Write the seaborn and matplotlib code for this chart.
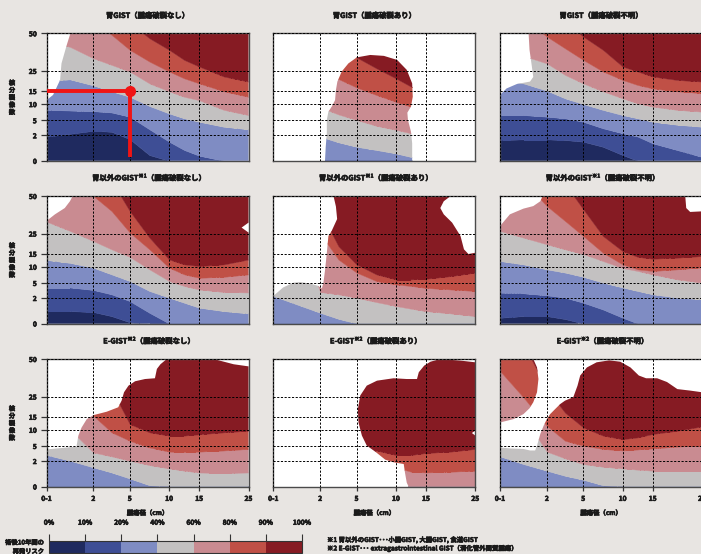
import numpy as np
import matplotlib
matplotlib.use("Agg")
import matplotlib.pyplot as plt
import matplotlib.patheffects as pe
import seaborn as sns
from matplotlib.path import Path
from matplotlib.patches import PathPatch
from matplotlib.colors import ListedColormap, BoundaryNorm
from matplotlib.cm import ScalarMappable

# ---------------------------------------------------------------------------
# Axes definitions
# ---------------------------------------------------------------------------
SIZE_TICKS = [1, 2, 5, 10, 15, 25]
SIZE_LABELS = ["0-1", "2", "5", "10", "15", "25"]
COUNT_TICKS = [0, 2, 5, 10, 15, 25, 50]

RISK_BOUNDS = [0, 10, 20, 40, 60, 80, 90, 100]
RISK_COLORS = ["#1f2a5f", "#3e4e95", "#7f8cc3", "#c3c1c1",
               "#c98b91", "#c05046", "#861b23"]

# tumour sizes at which the contour positions were read
SIZES = [1, 1.5, 2, 3.5, 5, 7.5, 10, 12.5, 15, 20, 25]

# mitotic count where risk passes 10/20/40/60/80/90 % (one row per level)
stomach_none = [
    [1.9, 2.3, 2.9, 2.7, 1.7, 0.45, 0, 0, 0, 0, 0],
    [8.2, 8.0, 7.8, 7.4, 6.1, 3.2, 1.5, 0.85, 0.4, 0, 0],
    [20, 20.8, 17.8, 14.9, 12.8, 9.4, 7.1, 5.6, 4.7, 3.7, 3.2],
    [45, 41, 33.4, 29, 24.7, 18.8, 14.9, 12.8, 11.5, 8.2, 6.6],
    [70, 65, 58, 49, 39, 31.2, 24.7, 21.3, 18.8, 14.9, 12.8],
    [90, 85, 80, 68, 57, 46.7, 39, 32.3, 27.9, 22.2, 19.7],
]
stomach_rupture = [
    [0] * 11,
    [0] * 11,
    [2, 2, 1.9, 1.45, 1.1, 0.85, 0.58, 0.3, 0.2, 0.2, 0.2],
    [10, 10, 9, 6.8, 5.1, 3.9, 3.1, 2.4, 2.2, 2, 2],
    [30, 28, 25, 21, 16.8, 13.5, 10.9, 9.2, 8.5, 8, 8],
    [70, 65, 60, 45, 34, 26.8, 21.3, 17.2, 15, 14, 14],
]
stomach_unknown = [
    [1.63, 1.68, 1.68, 1.63, 1.5, 1.1, 0.45, 0, 0, 0, 0],
    [6.6, 6.6, 6.1, 5.6, 4.7, 3.4, 2.4, 1.9, 1.37, 0.84, 0.3],
    [20, 18.8, 15.2, 12.2, 10, 8.2, 6.6, 5.6, 4.7, 4.1, 3.7],
    [40, 35, 30, 23, 18.8, 14.9, 12.2, 10.3, 9.2, 8.2, 7.65],
    [70, 60, 47.8, 40, 32.3, 24.7, 20.5, 18, 16.3, 14.9, 14.2],
    [90, 80, 65, 58, 47.8, 39, 27.9, 24.7, 22.2, 20.5, 19.7],
]
other_none = [
    [0.97, 0.97, 0.9, 0.58, 0.1, 0, 0, 0, 0, 0, 0],
    [4.1, 4.1, 3.6, 2.73, 1.76, 0.84, 0, 0, 0, 0, 0],
    [12.6, 11.5, 9.7, 7.65, 5.6, 3.4, 2.07, 1.63, 1.24, 0.97, 0.79],
    [33, 26.8, 21.3, 17.2, 13.8, 9.2, 5.6, 4.4, 3.7, 3.2, 3.1],
    [70, 60, 50, 40, 25.7, 17.2, 9.7, 7.65, 6.6, 6.9, 7.65],
    [95, 90, 80, 60, 40, 23, 12.8, 10.9, 10.3, 10.9, 12.8],
]
other_rupture = [
    [0] * 11,
    [0] * 11,
    [2.4, 1.5, 0.84, 0.37, 0, 0, 0, 0, 0, 0, 0],
    [30, 30, 3.2, 2.73, 2.07, 1.68, 1.37, 1.16, 0.97, 0.79, 0.58],
    [40, 40, 25, 12.8, 8.2, 5.6, 4.7, 4.4, 4.0, 3.7, 3.4],
    [60, 60, 40, 18.8, 10.9, 7.65, 6.1, 6.1, 6.3, 7.1, 8.2],
]
other_unknown = [
    [0.45, 0.58, 0.58, 0.35, 0, 0, 0, 0, 0, 0, 0],
    [3.07, 2.93, 2.53, 2.07, 1.63, 1.1, 0.45, 0, 0, 0, 0],
    [12.2, 10.9, 9.2, 8.2, 6.9, 5.1, 4.1, 3.4, 2.73, 2.07, 1.9],
    [26.8, 23, 19.7, 17.2, 14.9, 12.2, 9.6, 8.7, 7.65, 6.1, 5.1],
    [70, 60, 43.3, 33.4, 23.8, 15.5, 10.9, 9.2, 8.7, 9.2, 9.8],
    [90, 80, 70, 58, 41.2, 23.8, 16.3, 13.8, 13.1, 13.5, 14.1],
]
egist_none = [
    [0] * 11,
    [0] * 11,
    [3.2, 2.07, 1.5, 1.1, 0.63, 0.1, 0, 0, 0, 0, 0],
    [10, 10, 3.7, 2.93, 2.07, 1.68, 1.42, 1.24, 1.1, 1.05, 1.1],
    [40, 35, 15.5, 9.2, 6.6, 4.7, 3.87, 3.8, 3.87, 4.1, 4.4],
    [60, 55, 45, 30, 12.2, 9.2, 8.2, 8.2, 8.6, 9.2, 9.7],
]
egist_rupture = [
    [0] * 11,
    [0] * 11,
    [0] * 11,
    [0] * 11,
    [1.5, 1.5, 1.5, 1.5, 1.5, 1.5, 1.5, 1.16, 1.1, 1.16, 1.24],
    [2, 2, 2, 2, 2, 4.1, 3.2, 3.2, 3.6, 3.87, 4.4],
]
egist_unknown = [
    [0] * 11,
    [0] * 11,
    [2.93, 1.76, 1.24, 0.84, 0.53, 0.1, 0, 0, 0, 0, 0],
    [12, 15, 3.87, 2.53, 1.76, 1.55, 1.42, 1.32, 1.24, 1.24, 1.24],
    [42, 24.6, 11.5, 6.6, 5.1, 4.4, 4.1, 4.3, 4.5, 4.87, 5.1],
    [70, 60, 30, 17, 10.9, 8.2, 7.1, 7.65, 8.7, 9.7, 11.3],
]

# outline of the area where a risk is given (size, mitotic count); white outside
stomach_none_area = [([1, 25, 25, 1.51, 1.43, 1.32, 1.29, 1.14, 1],
                      [0, 0, 50, 50, 42, 30, 20.5, 13.5, 11.5])]
stomach_rupture_area = [([2.4, 2.46, 2.55, 2.55, 2.68, 2.95, 3.23, 3.3, 3.42, 3.78,
                          4.33, 5.04, 6.74, 8.47, 10.2, 11.8, 12.7, 12.8, 12.5,
                          11.9, 12.0, 12.5, 12.7, 12.7],
                         [0, 1.1, 2.4, 5.1, 7.65, 9.2, 11.5, 15.5, 19.7, 24.7,
                          30, 34, 35.6, 35, 32.3, 25.7, 18.8, 12.8, 9.2,
                          7.35, 5.1, 2.73, 1.37, 0])]
stomach_unknown_area = [([1, 25, 25, 1.61, 1.63, 1.68, 1.71, 1.64, 1.36, 1.14, 1],
                         [0, 0, 50, 50, 39, 27.9, 22, 19.7, 18.5, 16.3, 13.5])]
other_none_area = [([1, 25, 25, 23.6, 25, 25, 1.56, 1.5, 1.39, 1.18, 1],
                    [0, 0, 25.7, 29, 32.3, 50, 50, 46.5, 42, 37.8, 33.4])]
other_rupture_area = [([1, 25, 25, 23.6, 22.7, 22.0, 20.3, 18.6, 17.9, 18.6, 20.0,
                        3.1, 3.3, 3.4, 2.95, 2.68, 2.55, 2.41, 2.27, 2.14, 1.96,
                        1.79, 1.57, 1.43, 1.21, 1],
                       [0, 0, 15.5, 14.9, 17.2, 23.8, 32.3, 37.8, 42, 46.5, 50,
                        50, 43, 34.7, 26.8, 23.8, 15.5, 9.2, 5.1, 3.9, 4.4,
                        4.87, 5.3, 5.1, 4.1, 2.4])]
other_unknown_area = [([1, 25, 25, 22.6, 21.8, 21.6, 1.91, 1.86, 1.71, 1.5, 1.21, 1],
                       [0, 0, 39.8, 39.4, 42, 50, 50, 46.5, 43.3, 41.6, 37.8, 30])]
egist_none_area = [([1, 25, 25, 22.0, 17.9, 9.7, 8.9, 8.45, 8.2, 6.95, 5.68, 4.9,
                     4.53, 4.33, 4.05, 3.1, 2.0, 1.86, 1.75, 1.68, 1.64, 1],
                    [0, 0, 45.1, 46.5, 50, 50, 46.5, 43.4, 37.2, 36.7, 35.2, 32.3,
                     27.9, 23, 19.7, 17.5, 15.8, 14.1, 10.9, 8.2, 4.87, 4.3])]
egist_rupture_area = [([12.1, 25, 25, 24.3, 25, 25, 22.1, 17.9, 15.9, 14.7, 13.8,
                        13.5, 11.8, 9.7, 7.6, 6.3, 5.47, 5.17, 5.25, 5.68, 6.3,
                        7.37, 8.64, 9.7, 11.3, 11.5, 11.8],
                       [0, 0, 8.2, 9.0, 9.7, 47.8, 48.9, 50, 48.2, 45.6, 41.2,
                        36.7, 36.7, 37.2, 35.6, 32.3, 25.7, 18.8, 12.8, 8.2, 5.1,
                        3.87, 2.27, 1.9, 1.76, 1.1, 0.3])]
egist_unknown_area = [
    ([1, 1.71, 1.79, 1.82, 1.79, 1.71, 1.63, 1.5, 1.29, 1],
     [50, 50, 44.4, 36.7, 27.9, 22.2, 19.2, 16.3, 14.1, 12.8]),
    ([1, 25, 25, 22.6, 20.0, 17.9, 15.9, 13.9, 12.7, 11.3, 9.7, 8.3, 6.7, 5.47,
      4.75, 4.53, 4.18, 3.5, 3.1, 2.68, 2.27, 2.0, 1.93, 1.86, 1.79, 1.75, 1.64,
      1.5, 1.21, 1],
     [0, 0, 27.9, 29, 30, 34.7, 37.2, 37.2, 39, 44.4, 48.2, 49.1, 47.8, 44.4,
      39, 32.3, 24.7, 23, 21.3, 18.8, 16.3, 14.1, 11.5, 8.7, 5.1, 4.1, 4.1,
      4.4, 4.5, 4.7]),
]

TITLES = [
    ["胃GIST（腫瘍破裂なし）", "胃GIST（腫瘍破裂あり）", "胃GIST（腫瘍破裂不明）"],
    ["胃以外のGIST$^{※1}$（腫瘍破裂なし）", "胃以外のGIST$^{※1}$（腫瘍破裂あり）",
     "胃以外のGIST$^{※1}$（腫瘍破裂不明）"],
    ["E-GIST$^{※2}$（腫瘍破裂なし）", "E-GIST$^{※2}$（腫瘍破裂あり）",
     "E-GIST$^{※2}$（腫瘍破裂不明）"],
]
BANDS = [[stomach_none, stomach_rupture, stomach_unknown],
         [other_none, other_rupture, other_unknown],
         [egist_none, egist_rupture, egist_unknown]]
AREAS = [[stomach_none_area, stomach_rupture_area, stomach_unknown_area],
         [other_none_area, other_rupture_area, other_unknown_area],
         [egist_none_area, egist_rupture_area, egist_unknown_area]]

# highlighted example in the first panel
EXAMPLE_SIZE = 5
EXAMPLE_COUNT = 15

FOOTNOTES = ["※1 胃以外のGIST･･･小腸GIST, 大腸GIST, 食道GIST",
             "※2 E-GIST･･･ extragastrointestinal GIST（消化管外間質腫瘍）"]

# ---------------------------------------------------------------------------
# Style
# ---------------------------------------------------------------------------
sns.set_theme(style="white")
plt.rcParams['font.family'] = ['Noto Sans CJK JP', 'DejaVu Sans']
plt.rcParams['font.weight'] = 'bold'
plt.rcParams['mathtext.default'] = 'regular'
plt.rcParams['mathtext.fontset'] = 'custom'
plt.rcParams['mathtext.rm'] = 'Noto Sans CJK JP'
plt.rcParams['mathtext.it'] = 'Noto Sans CJK JP'
plt.rcParams['mathtext.bf'] = 'Noto Sans CJK JP:bold'

BG = "#e8e5e2"
INK = "#1a1a1a"
W, H = 701, 554
HEAVY = [pe.withStroke(linewidth=0.45, foreground=INK)]

# non-uniform axes: where each tick sits along the axis
SIZE_POS = [0, 0.232, 0.412, 0.607, 0.756, 1]
COUNT_POS = [0, 0.2, 0.318, 0.445, 0.547, 0.705, 1]
_ST = [0] + SIZE_TICKS + [50]
_SP = [-0.232] + SIZE_POS + [1.61]
_CT = [-50] + COUNT_TICKS + [150]
_CP = [-5] + COUNT_POS + [2.18]


def size_fwd(v):
    return np.interp(v, _ST, _SP)


def size_inv(v):
    return np.interp(v, _SP, _ST)


def count_fwd(v):
    return np.interp(v, _CT, _CP)


def count_inv(v):
    return np.interp(v, _CP, _CT)


def heavy(txt):
    txt.set_color(INK)
    txt.set_path_effects(HEAVY)
    return txt


fig = plt.figure(figsize=(W / 100, H / 100), dpi=100, facecolor=BG)

col_left = [46.5, 273.3, 500]
row_top = [33.3, 196, 359]
ax_w, ax_h = 202, 127.5

for r in range(3):
    for c in range(3):
        ax = fig.add_axes([col_left[c] / W, 1 - (row_top[r] + ax_h) / H, ax_w / W, ax_h / H])
        ax.set_facecolor("white")
        ax.set_xscale("function", functions=(size_fwd, size_inv))
        ax.set_yscale("function", functions=(count_fwd, count_inv))
        ax.set_xlim(1, 25)
        ax.set_ylim(0, 50)

        # clip region = area where the nomogram is defined
        paths = []
        for xs, ys in AREAS[r][c]:
            verts = np.column_stack([xs + [xs[0]], ys + [ys[0]]])
            paths.append(Path(verts, closed=True))
        area = PathPatch(Path.make_compound_path(*paths), transform=ax.transData,
                         facecolor="none", edgecolor="none")

        rows = BANDS[r][c]
        lower = [[0] * len(SIZES)] + rows
        upper = rows + [[150] * len(SIZES)]
        for lo, hi, col in zip(lower, upper, RISK_COLORS):
            band = ax.fill_between(SIZES, lo, hi, color=col, lw=0.3, edgecolor=col, zorder=1)
            band.set_clip_path(area)

        ax.set_xticks(SIZE_TICKS)
        ax.set_yticks(COUNT_TICKS)
        ax.minorticks_off()
        ax.set_axisbelow(False)
        ax.grid(True, color="black", linestyle=(0, (2.2, 1.6)), linewidth=0.7)
        for sp in ax.spines.values():
            sp.set_visible(True)
            sp.set_color("#4a4a4a")
            sp.set_linewidth(1.0)

        if c == 0:
            ax.set_yticklabels([str(t) for t in COUNT_TICKS])
            ax.tick_params(axis="y", left=True, length=4, width=0.9, color="#333333",
                           pad=3, labelsize=4.8)
            for t in ax.get_yticklabels():
                heavy(t)
            heavy(fig.text(12 / W, 1 - (row_top[r] + ax_h / 2) / H, "核\n分\n裂\n像\n数",
                           ha="center", va="center", fontsize=4.5, linespacing=1.05))
        else:
            ax.tick_params(axis="y", left=False, labelleft=False)

        if r == 2:
            ax.set_xticklabels(SIZE_LABELS)
            ax.tick_params(axis="x", bottom=True, length=3, width=0.9, color="#333333",
                           pad=3, labelsize=4.8)
            for t in ax.get_xticklabels():
                heavy(t)
            heavy(ax.text(0.5, -26 / ax_h, "腫瘍径（cm）", transform=ax.transAxes,
                          ha="center", va="center", fontsize=4.6))
        else:
            ax.tick_params(axis="x", bottom=False, labelbottom=False)

        heavy(ax.text(0.5, 1 + 18 / ax_h, TITLES[r][c], transform=ax.transAxes,
                      ha="center", va="center", fontsize=5.3))

        if r == 0 and c == 0:
            ax.plot([1, EXAMPLE_SIZE], [EXAMPLE_COUNT, EXAMPLE_COUNT], color="#f01414",
                    lw=2.8, solid_capstyle="butt", zorder=5)
            ax.plot([EXAMPLE_SIZE, EXAMPLE_SIZE], [EXAMPLE_COUNT, 0.3], color="#f01414",
                    lw=2.8, solid_capstyle="butt", zorder=5)
            ax.plot([EXAMPLE_SIZE], [EXAMPLE_COUNT], "o", color="#f01414", ms=7, zorder=6)

# colour scale
cax = fig.add_axes([49 / W, 1.5 / H, 253 / W, 11.5 / H])
cmap = ListedColormap(RISK_COLORS)
norm = BoundaryNorm(RISK_BOUNDS, cmap.N)
cb = fig.colorbar(ScalarMappable(norm=norm, cmap=cmap), cax=cax,
                  orientation="horizontal", ticks=RISK_BOUNDS)
cax.xaxis.set_ticks_position("top")
cax.set_xticklabels([f"{b}%" for b in RISK_BOUNDS])
cax.tick_params(axis="x", length=5, width=0.8, color="#333333", pad=6, labelsize=4.8)
for t in cax.get_xticklabels():
    heavy(t)
cb.outline.set_edgecolor("#333333")
cb.outline.set_linewidth(0.8)

heavy(fig.text(44 / W, 1 - 542 / H, "術後10年間の", ha="right", va="center", fontsize=4.5))
heavy(fig.text(44 / W, 1 - 551 / H, "再発リスク", ha="right", va="center", fontsize=4.5))

heavy(fig.text(327 / W, 1 - 540 / H, FOOTNOTES[0], ha="left", va="center", fontsize=4.6))
heavy(fig.text(327 / W, 1 - 548 / H, FOOTNOTES[1], ha="left", va="center", fontsize=4.6))

fig.savefig("out.png", dpi=100, facecolor=BG)
